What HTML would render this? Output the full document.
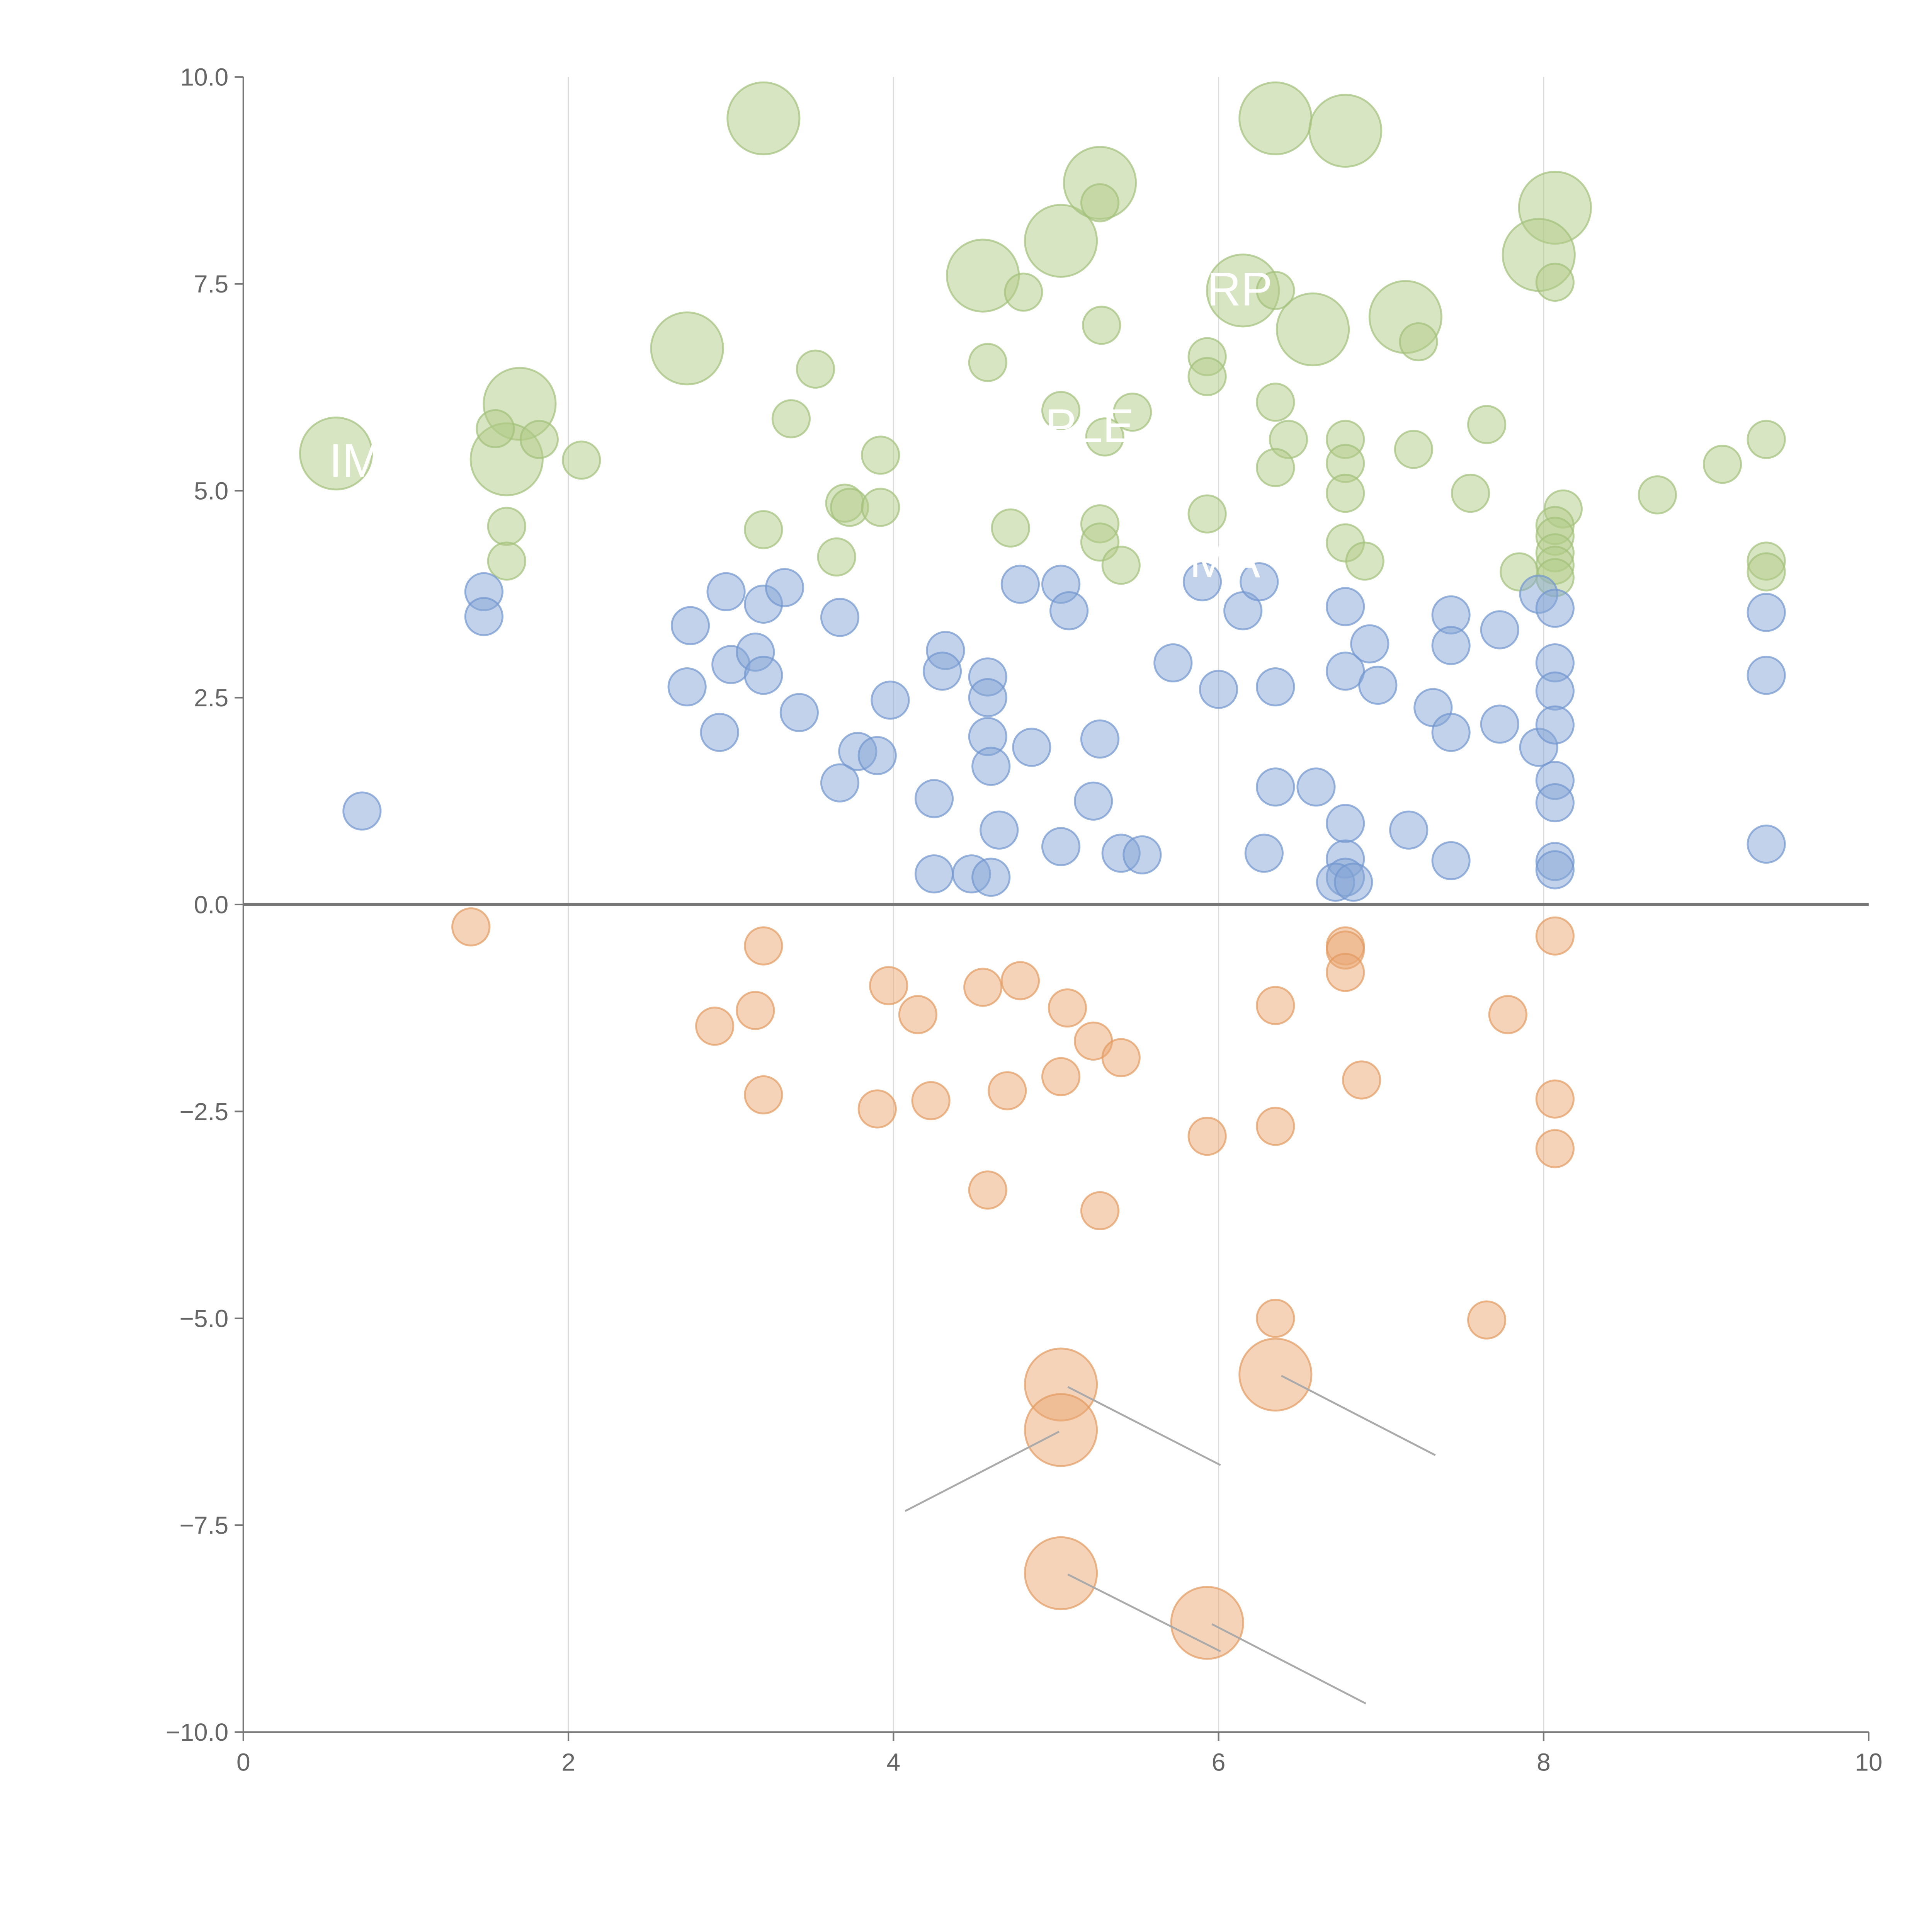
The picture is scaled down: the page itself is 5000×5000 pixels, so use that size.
<!DOCTYPE html>
<html><head><meta charset="utf-8">
<style>
html,body{margin:0;padding:0;background:#fff;}
svg{display:block;}
text{font-family:"Liberation Sans",sans-serif;}
</style></head>
<body>
<svg id="chart" width="5000" height="5000" viewBox="0 0 1556 1556" xmlns="http://www.w3.org/2000/svg">
<g id="grid"></g>
<g id="marks"></g>
<g id="annot"></g>
<g id="axes"></g>
</svg>
<script>
const xTicks=[0,2,4,6,8,10];
const yTicks=[10,7.5,5,2.5,0,-2.5,-5,-7.5,-10];
const yTickLabels=["10.0","7.5","5.0","2.5","0.0","\u22122.5","\u22125.0","\u22127.5","\u221210.0"];
const greenX=[0.57,1.7,1.62,1.55,1.82,2.08,1.62,1.62,3.2,2.73,3.37,3.52,3.2,3.65,3.7,3.73,3.92,3.92,4.55,4.8,4.58,5.03,5.27,5.27,5.28,5.03,5.47,5.3,4.72,5.27,5.27,5.4,6.35,6.78,6.15,6.35,5.93,5.93,6.58,6.35,6.43,6.35,5.93,6.78,6.78,6.78,6.78,6.9,7.15,7.23,7.2,7.65,7.55,8.07,7.97,8.07,8.12,8.07,8.07,8.07,8.07,7.85,8.07,8.7,9.1,9.37,9.37,9.37];
const greenY=[5.45,6.05,5.38,5.75,5.62,5.37,4.57,4.15,9.5,6.72,5.87,6.47,4.53,4.2,4.85,4.8,4.8,5.43,7.6,7.4,6.55,8.02,8.72,8.48,7.0,5.97,5.95,5.65,4.55,4.6,4.38,4.1,9.5,9.35,7.42,7.42,6.62,6.38,6.95,6.07,5.62,5.28,4.72,5.62,5.33,4.97,4.37,4.15,7.1,6.8,5.5,5.8,4.97,8.42,7.85,7.52,4.78,4.58,4.45,4.25,4.1,4.02,3.95,4.95,5.32,5.62,4.15,4.02];
const greenBig=[1,1,1,0,0,0,0,0,1,1,0,0,0,0,0,0,0,0,1,0,0,1,1,0,0,0,0,0,0,0,0,0,1,1,1,0,0,0,1,0,0,0,0,0,0,0,0,0,1,0,0,0,0,1,1,0,0,0,0,0,0,0,0,0,0,0,0,0];
const blueX=[0.73,1.48,1.48,2.97,2.75,2.73,3.0,3.15,3.2,3.33,3.2,2.93,3.42,3.67,3.78,3.9,3.67,3.98,4.32,4.3,4.58,4.58,4.58,4.6,4.25,4.25,4.48,4.6,4.65,4.85,4.78,5.03,5.08,5.27,5.23,5.03,5.4,5.53,5.72,5.9,6.0,6.15,6.25,6.35,6.35,6.6,6.28,6.78,6.78,6.93,6.98,6.78,6.78,6.78,6.72,6.83,7.17,7.32,7.43,7.43,7.43,7.43,7.73,7.73,7.97,7.97,8.07,8.07,8.07,8.07,8.07,8.07,8.07,8.07,9.37,9.37,9.37];
const blueY=[1.13,3.78,3.48,3.78,3.37,2.63,2.9,3.05,3.63,3.83,2.77,2.08,2.32,3.47,1.85,1.8,1.47,2.47,3.07,2.82,2.75,2.5,2.03,1.67,1.28,0.37,0.37,0.33,0.9,1.9,3.87,3.87,3.55,2.0,1.25,0.7,0.62,0.6,2.92,3.9,2.6,3.55,3.9,2.63,1.42,1.42,0.62,3.6,2.82,3.15,2.65,0.98,0.55,0.33,0.27,0.27,0.9,2.38,3.5,3.13,2.08,0.53,3.32,2.18,1.9,3.75,3.58,2.92,2.58,2.17,1.5,1.23,0.52,0.42,3.53,2.77,0.73];
const orangeX=[1.4,3.2,2.9,3.15,3.2,3.97,4.15,3.9,4.23,4.55,4.78,5.07,5.23,5.4,4.7,5.03,4.58,5.27,5.93,6.35,6.35,6.78,6.78,6.78,6.88,7.78,8.07,8.07,8.07,6.35,7.65,5.03,5.03,6.35,5.03,5.93];
const orangeY=[-0.27,-0.5,-1.47,-1.28,-2.3,-0.98,-1.33,-2.47,-2.37,-1.0,-0.92,-1.25,-1.65,-1.85,-2.25,-2.08,-3.45,-3.7,-2.8,-1.22,-2.68,-0.5,-0.55,-0.82,-2.12,-1.33,-0.38,-2.35,-2.95,-5.0,-5.02,-5.8,-6.35,-5.68,-8.08,-8.68];
const orangeBig=[0,0,0,0,0,0,0,0,0,0,0,0,0,0,0,0,0,0,0,0,0,0,0,0,0,0,0,0,0,0,0,1,1,1,1,1];

const NS="http://www.w3.org/2000/svg";
const L=196,R=1505,T=62,B=1395;
function sx(v){return L+(v-0)/(10-0)*(R-L);}
function sy(v){return B-(v+10)/20*(B-T);}
function mk(tag,attrs,parent){const e=document.createElementNS(NS,tag);for(const k in attrs)e.setAttribute(k,attrs[k]);parent.appendChild(e);return e;}
const grid=document.getElementById('grid'),marks=document.getElementById('marks'),axes=document.getElementById('axes'),annot=document.getElementById('annot');

xTicks.forEach((t,i)=>{
  if(t>0&&t<10){
    const g=mk('line',{x1:sx(t),x2:sx(t),y1:T,y2:B,stroke:'#dcdcdc','stroke-width':1},grid);
    
    
  }
  const tk=mk('line',{x1:sx(t),x2:sx(t),y1:B,y2:B+7,stroke:'#777','stroke-width':1.3},axes);
  
  
  const tx=mk('text',{x:sx(t),y:B+31,'text-anchor':'middle','font-size':20,fill:'#666'},axes);
  tx.textContent=String(t);
  
  
});
yTicks.forEach((t,i)=>{
  const tk=mk('line',{x1:L-7,x2:L,y1:sy(t),y2:sy(t),stroke:'#777','stroke-width':1.3},axes);
  
  
  const tx=mk('text',{x:L-12,y:sy(t)+7,'text-anchor':'end','font-size':20,fill:'#666'},axes);
  tx.textContent=yTickLabels[i];
  
  
});
const ya=mk('line',{x1:L,x2:L,y1:T,y2:B,stroke:'#777','stroke-width':1.3},axes);


const xa=mk('line',{x1:L,x2:R,y1:B,y2:B,stroke:'#777','stroke-width':1.3},axes);


const zl=mk('line',{x1:L,x2:R,y1:sy(0),y2:sy(0),stroke:'#777','stroke-width':2.5},axes);



function series(xs,ys,big,fill,stroke,name){
  xs.forEach((x,i)=>{
    const c=mk('circle',{cx:sx(x),cy:sy(ys[i]),r:big[i]?29:15,fill:fill,'fill-opacity':0.5,stroke:stroke,'stroke-opacity':0.7,'stroke-width':1.5},marks);
    
    
  });
}
series(greenX,greenY,greenBig,'#b2cc88','#a3c07a','green-bubble');
series(blueX,blueY,blueX.map(()=>0),'#85a5d6','#7096cf','blue-bubble');
series(orangeX,orangeY,orangeBig,'#eaa873','#e39a5f','orange-bubble');

const leaders=[[860,1117,983,1180],[853,1153,729,1217],[1032,1108,1156,1172],[860,1268,983,1330],[976,1308,1100,1372]];
leaders.forEach(l=>{
  const e=mk('line',{x1:l[0],y1:l[1],x2:l[2],y2:l[3],stroke:'#aaa','stroke-width':1.5},annot);
  
  
});
const labels=[["IM",265,384],["RP",972,246],["OPLE",812,356],["MA",958,465]];
labels.forEach(l=>{
  const e=mk('text',{x:l[1],y:l[2],'font-size':38,fill:'#fff'},annot);
  e.textContent=l[0];
  
  
});
</script>
</body></html>
